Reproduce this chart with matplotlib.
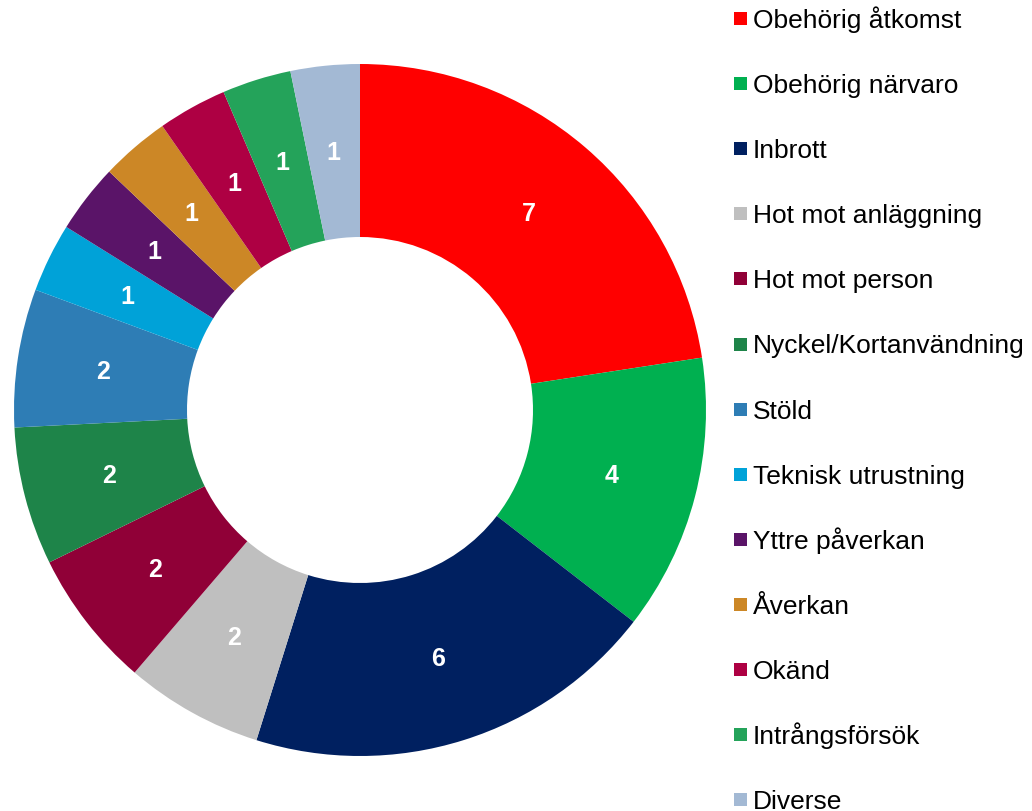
import matplotlib as mpl
mpl.use('agg')
import matplotlib.pyplot as plt
from matplotlib.patches import Rectangle
import numpy as np

categories = ['Obehörig åtkomst', 'Obehörig närvaro', 'Inbrott', 'Hot mot anläggning',
              'Hot mot person', 'Nyckel/Kortanvändning', 'Stöld', 'Teknisk utrustning',
              'Yttre påverkan', 'Åverkan', 'Okänd', 'Intrångsförsök', 'Diverse']
counts = [7, 4, 6, 2, 2, 2, 2, 1, 1, 1, 1, 1, 1]
colors = ['#ff0000', '#00b050', '#002060', '#bfbfbf', '#900037', '#1e8449', '#2e7db5',
          '#00a2d8', '#5a1468', '#cc8726', '#ae0043', '#24a35a', '#a3b9d4']

plt.rcParams['font.family'] = ['Liberation Sans', 'DejaVu Sans']

W, H = 1032, 812
fig = plt.figure(figsize=(W / 100, H / 100), dpi=100)

# donut: centre (360, 411) px, outer radius 346 px
cx, cy, r = 360, 411, 346
ax = fig.add_axes(((cx - r) / W, (H - cy - r) / H, 2 * r / W, 2 * r / H))
wedges, _ = ax.pie(counts, colors=colors, startangle=90, counterclock=False,
                   radius=1.0, wedgeprops=dict(width=0.5, edgecolor='none'))
ax.set_xlim(-1, 1)
ax.set_ylim(-1, 1)
ax.set_aspect('equal')
ax.axis('off')

total = sum(counts)
start = 90.0
for val in counts:
    mid = start - 360.0 * val / total / 2
    rad = np.deg2rad(mid)
    ax.text(0.75 * np.cos(rad), 0.75 * np.sin(rad), str(val), ha='center', va='center',
            color='white', fontsize=18, fontweight='bold')
    start -= 360.0 * val / total

# legend, drawn by hand so spacing matches
for i, (lab, col) in enumerate(zip(categories, colors)):
    yc = 19.5 + 65.1 * i
    fig.patches.append(Rectangle((734 / W, 1 - (yc + 6.5) / H), 13 / W, 13 / H,
                                 transform=fig.transFigure, facecolor=col, edgecolor='none'))
    fig.text(753 / W, 1 - (yc + 8.5) / H, lab, fontsize=19, va='baseline', ha='left', color='black')

plt.savefig('out.png', dpi=100)
